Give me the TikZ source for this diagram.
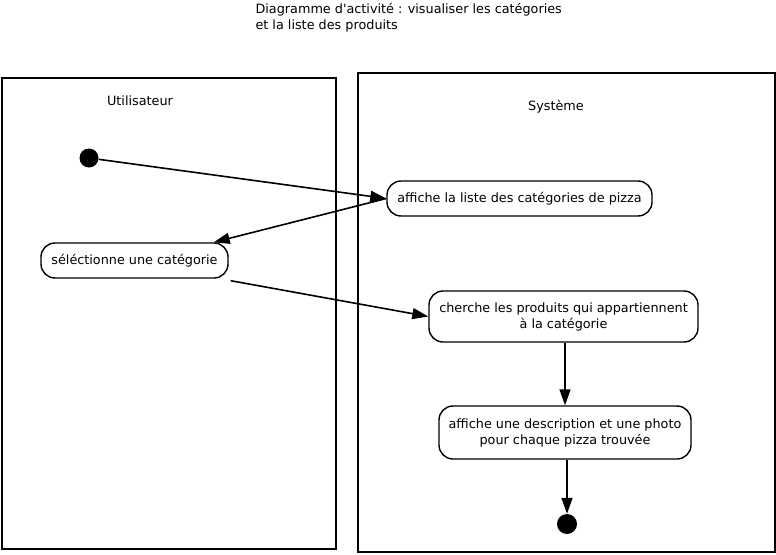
\documentclass[tikz,border=0pt]{standalone}
\usepackage{fontspec}
\setmainfont{DejaVu Sans}
\usetikzlibrary{arrows.meta}
\begin{document}
\begin{tikzpicture}[x=1pt,y=-1pt,
  lane/.style={draw,line width=1.6pt},
  act/.style={draw,line width=1.4pt,rounded corners=14pt,align=center,inner sep=0pt,
    font=\fontsize{12.8}{16}\selectfont},
  lbl/.style={font=\fontsize{12.8}{16}\selectfont},
  startnode/.style={circle,fill=black,inner sep=0pt,minimum size=19pt},
  flow/.style={line width=1.6pt,-{Triangle[length=16pt,width=11pt]}}]
\useasboundingbox (0,0) rectangle (776,554);
\node[lbl,align=left,anchor=north west] (title) at (252,0) {Diagramme d\textquotesingle activité : visualiser les catégories\\et la liste des produits};
\node[lane,minimum width=334pt,minimum height=471pt,inner sep=0pt,anchor=north west] (lu) at (1,77) {};
\node[lane,minimum width=417pt,minimum height=479pt,inner sep=0pt,anchor=north west] (ls) at (357,72) {};
\node[lbl] (tu) at (140,101) {Utilisateur};
\node[lbl] (ts) at (556,107) {Système};
\node[startnode] (init) at (89,158) {};
\node[act,minimum width=265pt,minimum height=35pt] (a) at (519.5,198.5) {affiche la liste des catégories de pizza};
\node[act,minimum width=187pt,minimum height=35pt] (b) at (134.5,260.5) {séléctionne une catégorie};
\node[act,minimum width=269pt,minimum height=51pt] (c) at (563.5,316.5) {cherche les produits qui appartiennent\\à la catégorie};
\node[act,minimum width=252pt,minimum height=53pt] (d) at (565,432.5) {affiche une description et une photo\\pour chaque pizza trouvée};
\node[startnode,minimum size=20pt] (fin) at (567,524) {};
\draw[flow] (init) -- (a.west);
\draw[flow] (a.west) -- ([xshift=-15pt]b.north east);
\draw[flow] ([xshift=2pt,yshift=-2pt]b.south east) -- (c.west);
\draw[flow] (d.north |- c.south) -- (d.north);
\draw[flow] (fin.north |- d.south) -- (fin.north);
\end{tikzpicture}
\end{document}
